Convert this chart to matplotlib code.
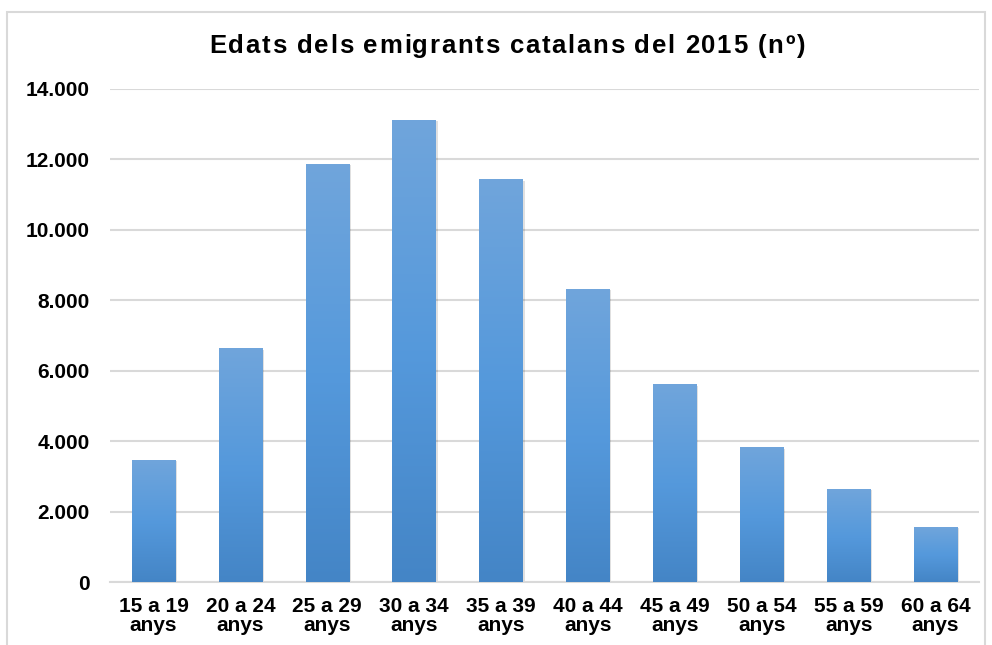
import matplotlib
matplotlib.use("Agg")
import matplotlib.pyplot as plt
import numpy as np
from matplotlib.colors import LinearSegmentedColormap
from matplotlib.patches import Rectangle

categories = ["15 a 19\nanys", "20 a 24\nanys", "25 a 29\nanys", "30 a 34\nanys", "35 a 39\nanys",
              "40 a 44\nanys", "45 a 49\nanys", "50 a 54\nanys", "55 a 59\nanys", "60 a 64\nanys"]
values = [3470, 6640, 11870, 13120, 11440, 8320, 5620, 3830, 2640, 1560]
yticks = [0, 2000, 4000, 6000, 8000, 10000, 12000, 14000]
ytick_labels = ["0", "2.000", "4.000", "6.000", "8.000", "10.000", "12.000", "14.000"]
title = "Edats dels emigrants catalans del 2015 (nº)"

plt.rcParams['font.family'] = ['Liberation Sans', 'DejaVu Sans']

fig = plt.figure(figsize=(9.92, 6.45), dpi=100)
ax = fig.add_axes([110/992, 1-582/645, (979-110)/992, (582-89)/645])

x = np.arange(len(categories))
bars = ax.bar(x, values, width=0.5, color="#5b9bd5", zorder=3)

cmap = LinearSegmentedColormap.from_list("g", ["#4485c6", "#5599dc", "#70a5db"])
grad = np.linspace(0, 1, 256).reshape(-1, 1)
for b in bars:
    bx, by = b.get_x(), b.get_y()
    w, h = b.get_width(), b.get_height()
    sh = Rectangle((bx + 0.02, by), w, h - 40, facecolor="#000000", alpha=0.12, zorder=2, linewidth=0)
    ax.add_patch(sh)
    im = ax.imshow(grad, cmap=cmap, aspect="auto", extent=(bx, bx + w, by, by + h),
                   origin="lower", zorder=4)
    im.set_clip_path(b)

ax.set_xlim(-0.5, len(categories) - 0.5)
ax.set_ylim(0, 14000)
ax.set_yticks(yticks)
ax.set_yticklabels(ytick_labels)
ax.set_xticks(x)
ax.set_xticklabels(categories, linespacing=1.0)
ax.tick_params(axis="both", length=0, labelsize=15, colors="#000000")
ax.tick_params(axis="y", pad=14.4)
ax.tick_params(axis="x", pad=11)
for lab in ax.get_xticklabels() + ax.get_yticklabels():
    lab.set_fontweight("bold")

ax.grid(axis="y", color="#d9d9d9", linewidth=1.5, zorder=0)
ax.set_axisbelow(True)
for s in ["left", "right", "top"]:
    ax.spines[s].set_visible(False)
ax.spines["bottom"].set_color("#d9d9d9")
ax.spines["bottom"].set_linewidth(1.5)

# Title with slight letter spacing
fig.canvas.draw()
renderer = fig.canvas.get_renderer()
title_fs = 18.5
title_y = 1 - 46/645
target_width = 595.0
widths = []
for ch in title:
    t = fig.text(0, 0, ch if ch != " " else "a", fontsize=title_fs, fontweight="bold")
    wpx = t.get_window_extent(renderer).width
    if ch == " ":
        t2 = fig.text(0, 0, "a a", fontsize=title_fs, fontweight="bold")
        wpx = t2.get_window_extent(renderer).width - 2 * wpx
        t2.remove()
    widths.append(wpx)
    t.remove()
natural = sum(widths)
extra = max(0.0, (target_width - natural) / (len(title) - 1))
total = natural + extra * (len(title) - 1)
xpos = 507 - total / 2
for ch, wpx in zip(title, widths):
    if ch != " ":
        fig.text(xpos / 992, title_y, ch, fontsize=title_fs, fontweight="bold",
                 ha="left", va="center")
    xpos += wpx + extra

border = Rectangle((7/992, -0.05), (985-7)/992, 1-12/645 + 0.05, transform=fig.transFigure,
                   fill=False, edgecolor="#d9d9d9", linewidth=1.5)
fig.patches.append(border)

fig.savefig("out.png", dpi=100)
